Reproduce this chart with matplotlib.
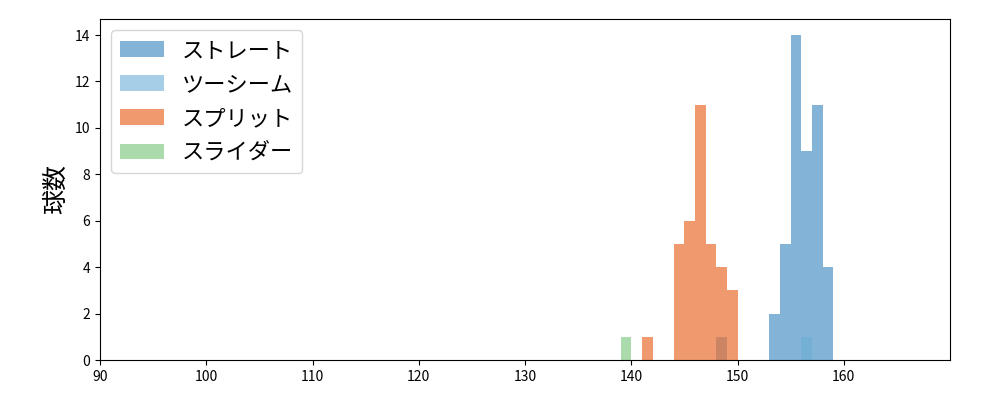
import numpy as np
import matplotlib
matplotlib.use("Agg")
import matplotlib.pyplot as plt

plt.rcParams["font.family"] = ["Noto Sans CJK JP", "DejaVu Sans"]

# pitch speed bins (left edge, km/h) and pitch counts per type
PITCH_TYPES = ["ストレート", "ツーシーム", "スプリット", "スライダー"]
COLORS = ["#3182bd", "#6baed6", "#e6550d", "#74c476"]

straight_speed = [153, 154, 155, 156, 157, 158]
straight_count = [2, 5, 14, 9, 11, 4]

twoseam_speed = [148, 156]
twoseam_count = [1, 1]

split_speed = [141, 144, 145, 146, 147, 148, 149]
split_count = [1, 5, 6, 11, 5, 4, 3]

slider_speed = [139]
slider_count = [1]

BINS = np.arange(90, 171, 1)

series = [
    (straight_speed, straight_count),
    (twoseam_speed, twoseam_count),
    (split_speed, split_count),
    (slider_speed, slider_count),
]

fig, ax = plt.subplots(figsize=(10, 4), dpi=100)

for (speeds, counts), name, color in zip(series, PITCH_TYPES, COLORS):
    ax.hist(np.array(speeds) + 0.5, bins=BINS, weights=counts,
            color=color, alpha=0.6, label=name)

ax.set_xlim(90, 170)
ax.set_xticks(np.arange(90, 170, 10))
ax.set_ylabel("球数", fontsize=18)
ax.legend(loc="upper left", fontsize=16)

fig.subplots_adjust(left=0.1, right=0.95, top=0.953, bottom=0.1)
fig.savefig("out.png")
plt.close(fig)
